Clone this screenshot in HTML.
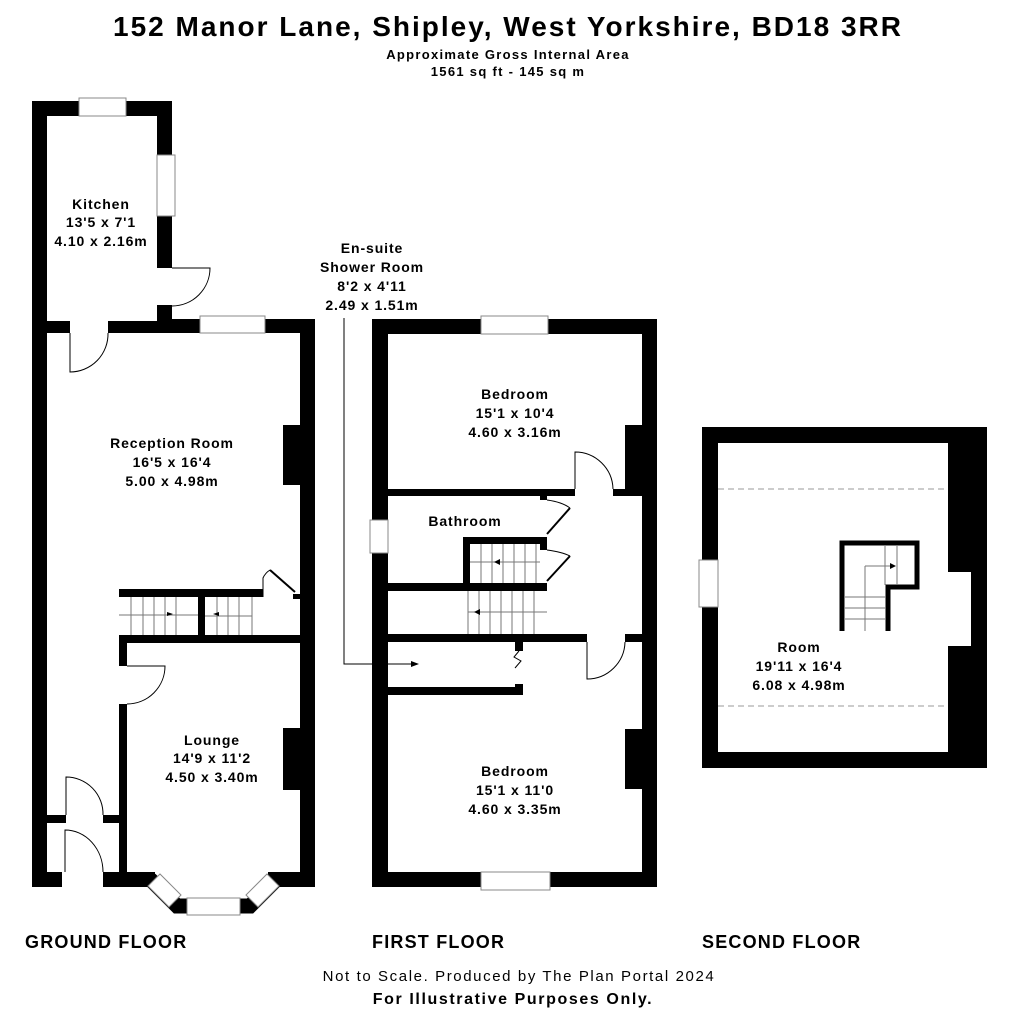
<!DOCTYPE html>
<html><head><meta charset="utf-8"><style>
html,body{margin:0;padding:0;background:#fff;}
svg{display:block;}
text{font-family:"Liberation Sans",Arial,sans-serif;font-weight:bold;fill:#000;}
.r{letter-spacing:0.9px;}
</style></head><body>
<svg width="1011" height="1024" viewBox="0 0 1011 1024" xmlns="http://www.w3.org/2000/svg">
<rect width="1011" height="1024" fill="#fff"/>
<text x="508" y="36" font-size="28" text-anchor="middle" letter-spacing="2">152 Manor Lane, Shipley, West Yorkshire, BD18 3RR</text>
<text x="508" y="59" font-size="13" text-anchor="middle" letter-spacing="1.3">Approximate Gross Internal Area</text>
<text x="508" y="76" font-size="13" text-anchor="middle" letter-spacing="1.3">1561 sq ft - 145 sq m</text>

<!-- GROUND FLOOR -->
<g fill="#000">
<rect x="32" y="101" width="15" height="786"/>
<rect x="32" y="101" width="140" height="15"/>
<rect x="157" y="101" width="15" height="167"/>
<rect x="157" y="305" width="15" height="28"/>
<rect x="47" y="321" width="23" height="12"/>
<rect x="108" y="321" width="64" height="12"/>
<rect x="172" y="319" width="143" height="14"/>
<rect x="300" y="319" width="15" height="568"/>
<rect x="283" y="425" width="17" height="60"/>
<rect x="119" y="589" width="144" height="8"/>
<rect x="293" y="594" width="7" height="5"/>
<rect x="198" y="597" width="7" height="38"/>
<rect x="119" y="635" width="181" height="8"/>
<rect x="119" y="643" width="8" height="23"/>
<rect x="119" y="704" width="8" height="168"/>
<rect x="283" y="728" width="17" height="62"/>
<rect x="47" y="815" width="19" height="8"/>
<rect x="103" y="815" width="16" height="8"/>
<rect x="32" y="872" width="30" height="15"/>
<rect x="103" y="872" width="52" height="15"/>
<rect x="268" y="872" width="47" height="15"/>
</g>
<path d="M150 879 L177 906 L250 906 L277 879" fill="none" stroke="#000" stroke-width="15"/>
<g fill="#fff" stroke="#888" stroke-width="1">
<rect x="79" y="98" width="47" height="18"/>
<rect x="157" y="155" width="18" height="61"/>
<rect x="200" y="316" width="65" height="17"/>
<rect x="187" y="898" width="53" height="17"/>
<polygon points="148,886 160,874 181,895 169,907"/>
<polygon points="279,886 267,874 246,895 258,907"/>
</g>
<g fill="none" stroke="#000" stroke-width="1">
<path d="M172 268 L210 268 A38 38 0 0 1 172 306"/>
<path d="M70 333 L70 372 A38 38 0 0 0 108 333"/>
<path d="M127 666 L165 666 A38 38 0 0 1 127 704"/>
<path d="M66 815 L66 777 A37 37 0 0 1 103 815"/>
<path d="M65 872 L65 830 A38 42 0 0 1 103 872"/>
<path d="M263 597 L263 578 A18 18 0 0 1 270 570" />
</g>
<line x1="270" y1="570" x2="295" y2="592" stroke="#000" stroke-width="2"/>
<g stroke="#777" stroke-width="1" fill="none">
<line x1="119" y1="615" x2="198" y2="615"/>
<line x1="131" y1="597" x2="131" y2="635"/><line x1="143" y1="597" x2="143" y2="635"/><line x1="154" y1="597" x2="154" y2="635"/><line x1="165" y1="597" x2="165" y2="635"/><line x1="176" y1="597" x2="176" y2="635"/>
<line x1="205" y1="616" x2="252" y2="616"/>
<line x1="217" y1="597" x2="217" y2="635"/><line x1="228" y1="597" x2="228" y2="635"/><line x1="239" y1="597" x2="239" y2="635"/><line x1="252" y1="597" x2="252" y2="635"/>
</g>
<path d="M167 612 L173 614 L167 616Z"/><path d="M219 612 L213 614 L219 616Z"/>
<g font-size="14" text-anchor="middle" class="r">
<text x="101" y="209">Kitchen</text><text x="101" y="227">13'5 x 7'1</text><text x="101" y="246">4.10 x 2.16m</text>
<text x="172" y="448">Reception Room</text><text x="172" y="467">16'5 x 16'4</text><text x="172" y="486">5.00 x 4.98m</text>
<text x="212" y="745">Lounge</text><text x="212" y="763">14'9 x 11'2</text><text x="212" y="782">4.50 x 3.40m</text>
</g>

<!-- FIRST FLOOR -->
<g fill="#000">
<rect x="372" y="319" width="16" height="568"/>
<rect x="372" y="319" width="285" height="15"/>
<rect x="642" y="319" width="15" height="568"/>
<rect x="372" y="872" width="285" height="15"/>
<rect x="625" y="425" width="17" height="68"/>
<rect x="388" y="489" width="187" height="7"/>
<rect x="613" y="489" width="29" height="7"/>
<rect x="540" y="496" width="7" height="4"/>
<rect x="463" y="537" width="84" height="7"/>
<rect x="463" y="537" width="7" height="50"/>
<rect x="540" y="537" width="7" height="13"/>
<rect x="388" y="583" width="159" height="8"/>
<rect x="388" y="634" width="199" height="8"/>
<rect x="625" y="634" width="17" height="8"/>
<rect x="515" y="642" width="8" height="9"/>
<rect x="515" y="684" width="8" height="11"/>
<rect x="388" y="687" width="135" height="8"/>
<rect x="625" y="729" width="17" height="60"/>
</g>
<g fill="#fff" stroke="#888" stroke-width="1">
<rect x="481" y="316" width="67" height="18"/>
<rect x="481" y="872" width="69" height="18"/>
<rect x="370" y="520" width="18" height="33"/>
</g>
<g fill="none" stroke="#000" stroke-width="1">
<path d="M575 489 L575 452 A38 38 0 0 1 613 489"/>
<path d="M587 642 L587 679 A38 38 0 0 0 625 642"/>
<path d="M547 500 Q562 502 570 508"/>
<path d="M547 550 Q562 552 570 556"/>
<path d="M519 651 L514 657 L521 661 L515 668"/>
<path d="M344 318 L344 664 L412 664"/>
</g>
<line x1="547" y1="534" x2="570" y2="508" stroke="#000" stroke-width="2"/>
<line x1="547" y1="581" x2="570" y2="556" stroke="#000" stroke-width="2"/>
<path d="M411 661 L419 664 L411 667Z"/>
<g stroke="#777" stroke-width="1" fill="none">
<line x1="470" y1="562" x2="540" y2="562"/>
<line x1="481" y1="544" x2="481" y2="583"/><line x1="492" y1="544" x2="492" y2="583"/><line x1="503" y1="544" x2="503" y2="583"/><line x1="514" y1="544" x2="514" y2="583"/><line x1="525" y1="544" x2="525" y2="583"/><line x1="536" y1="544" x2="536" y2="583"/>
<line x1="468" y1="591" x2="468" y2="634"/>
<line x1="468" y1="612" x2="547" y2="612"/>
<line x1="479" y1="591" x2="479" y2="634"/><line x1="490" y1="591" x2="490" y2="634"/><line x1="501" y1="591" x2="501" y2="634"/><line x1="512" y1="591" x2="512" y2="634"/><line x1="523" y1="591" x2="523" y2="634"/><line x1="534" y1="591" x2="534" y2="634"/>
</g>
<path d="M500 559 L494 562 L500 565Z"/><path d="M480 609 L474 612 L480 615Z"/>
<g font-size="14" text-anchor="middle" class="r">
<text x="372" y="253">En-suite</text><text x="372" y="272">Shower Room</text><text x="372" y="291">8'2 x 4'11</text><text x="372" y="310">2.49 x 1.51m</text>
<text x="515" y="399">Bedroom</text><text x="515" y="418">15'1 x 10'4</text><text x="515" y="437">4.60 x 3.16m</text>
<text x="465" y="526">Bathroom</text>
<text x="515" y="776">Bedroom</text><text x="515" y="795">15'1 x 11'0</text><text x="515" y="814">4.60 x 3.35m</text>
</g>

<!-- SECOND FLOOR -->
<g fill="#000">
<rect x="702" y="427" width="285" height="16"/>
<rect x="702" y="427" width="16" height="341"/>
<rect x="702" y="752" width="285" height="16"/>
<rect x="948" y="427" width="39" height="341"/>
</g>
<rect x="948" y="572" width="23" height="74" fill="#fff"/>
<rect x="699" y="560" width="19" height="47" fill="#fff" stroke="#888"/>
<g stroke="#999" stroke-width="1" stroke-dasharray="6,4">
<line x1="718" y1="489" x2="948" y2="489"/><line x1="718" y1="706" x2="948" y2="706"/>
</g>
<path d="M842 631 L842 543 L917 543 L917 587 L888 587 L888 631" fill="none" stroke="#000" stroke-width="5"/>
<g stroke="#777" stroke-width="1" fill="none">
<line x1="845" y1="608" x2="886" y2="608"/><line x1="845" y1="619" x2="886" y2="619"/><line x1="845" y1="597" x2="886" y2="597"/>
<line x1="865" y1="566" x2="865" y2="631"/>
<line x1="865" y1="566" x2="895" y2="566"/>
<line x1="885" y1="546" x2="885" y2="585"/><line x1="897" y1="546" x2="897" y2="585"/>
</g>
<path d="M890 563 L896 566 L890 569Z"/>
<g font-size="14" text-anchor="middle" class="r">
<text x="799" y="652">Room</text><text x="799" y="671">19'11 x 16'4</text><text x="799" y="690">6.08 x 4.98m</text>
</g>

<g font-size="18" letter-spacing="1.2">
<text x="25" y="948">GROUND FLOOR</text>
<text x="372" y="948">FIRST FLOOR</text>
<text x="702" y="948">SECOND FLOOR</text>
</g>
<text x="519" y="981" font-size="15" text-anchor="middle" letter-spacing="1.6" style="font-weight:normal">Not to Scale. Produced by The Plan Portal 2024</text>
<text x="513" y="1004" font-size="16" text-anchor="middle" letter-spacing="1.6">For Illustrative Purposes Only.</text>
</svg>
</body></html>
